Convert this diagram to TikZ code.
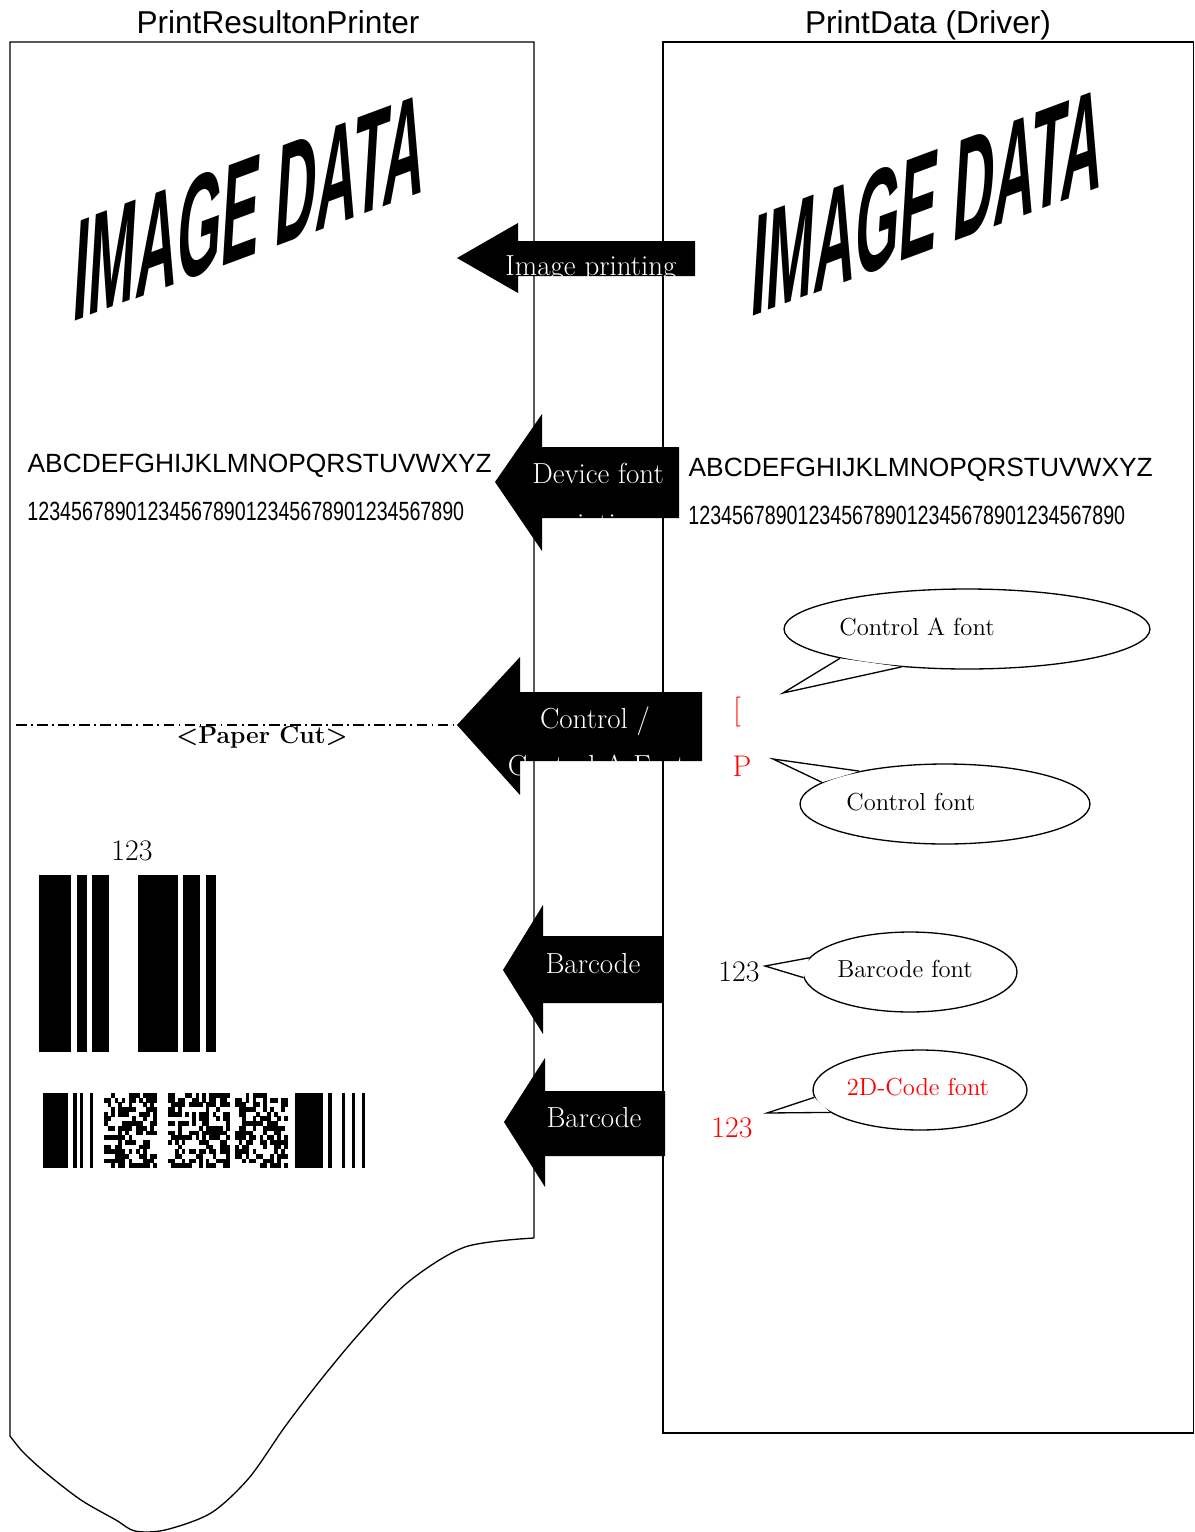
\documentclass[tikz,border=0pt]{standalone}
\usepackage{fontspec}
\newfontfamily\arialf{Liberation Sans}
\usetikzlibrary{shapes.geometric}

\begin{document}
\begin{tikzpicture}[x=0.02cm, y=-0.02cm, line width=0.75pt,
  titulo/.style={font=\arialf\fontsize{18}{20}\selectfont, inner sep=0, anchor=base},
  letras/.style={font=\arialf\fontsize{15}{17}\selectfont, inner sep=0, anchor=base west},
  imagen/.style={font=\arialf\bfseries\fontsize{83}{83}\selectfont, inner sep=0, cm={0.39,0.145,0.06,1,(0,0)}},
  flechatxt/.style={text=white, font=\fontsize{16.5}{20}\selectfont, inner sep=0, anchor=base},
  nota/.style={font=\fontsize{14}{16}\selectfont, inner sep=0},
  num/.style={font=\fontsize{17}{19}\selectfont, inner sep=0},
  burbuja/.style={ellipse, draw, fill=white, inner sep=0, minimum height=1.6cm}]
  \useasboundingbox (0,0) rectangle (1195,1532);

  % --- titulos ---
  \node[titulo] (tizq) at (278,33) {PrintResultonPrinter};
  \node[titulo] (tder) at (928,33) {PrintData (Driver)};

  % --- papel impreso (izquierda) y datos del driver (derecha) ---
  \draw (534,1238) -- (534,42) -- (10,42) -- plot[smooth, tension=0.5] coordinates {
    (10,1436) (23,1452) (46,1473) (81,1500) (116,1520) (135,1531) (165,1530)
    (211,1513) (249,1478) (284,1428) (319,1382) (358,1335) (407,1283) (465,1247) (534,1238)};
  \draw (663,42) rectangle (1193.5,1433);

  % --- IMAGE DATA ---
  \node[imagen] (imgizq) at (250,207) {IMAGE DATA};
  \node[imagen] (imgder) at (928,202) {IMAGE DATA};

  % --- fuente del dispositivo ---
  \node[letras] (abcizq) at (27,472) {ABCDEFGHIJKLMNOPQRSTUVWXYZ};
  \node[letras, xscale=0.745] (numizq) at (27,520) {1234567890123456789012345678901234567890};
  \node[letras] (abcder) at (688,476) {ABCDEFGHIJKLMNOPQRSTUVWXYZ};
  \node[letras, xscale=0.745] (numder) at (688,524) {1234567890123456789012345678901234567890};

  % --- corte de papel ---
  \draw[line width=0.6pt, dash pattern=on 6pt off 2.5pt on 1pt off 2.5pt] (16,725) -- (470,725);
  \node[font=\bfseries\fontsize{14}{16}\selectfont, inner sep=0] (corte) at (262,737) {<Paper Cut>};

  % --- codigo de barras ---
  \node[num] (n123) at (132,851) {123};
  \foreach \a/\b in {39/71,77/87,92/109,138/178,183/200,206/216}
    \fill (\a,875) rectangle (\b,1052);

  % --- codigo 2D ---
  \foreach \a/\b in {43/68,73/77,80/83,90/93,295/323,328/332,342/345,352/355,362/365}
    \fill (\a,1093) rectangle (\b,1168);
  \pgfmathsetseed{417}
  \foreach \xa/\nc/\w in {104/14/3.53,168/17/3.44,235/14/3.53}
    \foreach \i in {0,...,\nc}
      \foreach \j in {0,...,15} {
        \pgfmathtruncatemacro{\bit}{rnd+0.5}
        \ifnum\bit=1 \fill (\xa+\w*\i,1093+4.69*\j) rectangle ++(\w+0.2,4.8); \fi
      }

  % --- flechas ---
  \begin{scope}
    \clip (457,258) -- (518,223) -- (518,241) -- (695,241) -- (695,276) -- (518,276) -- (518,293) -- cycle;
    \fill (440,200) rectangle (720,300);
    \node[flechatxt] (fimg) at (591,275) {Image printing};
  \end{scope}
  \begin{scope}
    \clip (495,482) -- (542,414) -- (542,447) -- (679,447) -- (679,518) -- (542,518) -- (542,551) -- cycle;
    \fill (480,400) rectangle (700,560);
    \node[flechatxt] (fdev) at (598,483) {Device font};
    \node[flechatxt] (fdev2) at (598,533) {printing};
  \end{scope}
  \begin{scope}
    \clip (457,725) -- (520,657) -- (520,692) -- (702,692) -- (702,761) -- (520,761) -- (520,795) -- cycle;
    \fill (440,640) rectangle (720,800);
    \node[flechatxt] (fctl) at (595,728) {Control /};
    \node[flechatxt] (fctl2) at (597,775) {Control A Font};
  \end{scope}
  \begin{scope}
    \clip (503,970) -- (543,905) -- (543,936) -- (663,936) -- (663,1003) -- (543,1003) -- (543,1034) -- cycle;
    \fill (490,890) rectangle (680,1050);
    \node[flechatxt] (fbar) at (593,973) {Barcode};
  \end{scope}
  \begin{scope}
    \clip (504,1122) -- (545,1058) -- (545,1091) -- (665,1091) -- (665,1156) -- (545,1156) -- (545,1187) -- cycle;
    \fill (490,1040) rectangle (680,1200);
    \node[flechatxt] (fbar2) at (594,1127) {Barcode};
  \end{scope}

  % --- globos ---
  \node[burbuja, minimum width=7.32cm] (bctla) at (967,629) {};
  \coordinate (pctla) at (783,693);
  \fill[white] (bctla.193) -- (pctla) -- (bctla.210) -- cycle;
  \draw[line join=miter] (bctla.193) -- (pctla) -- (bctla.210);
  \node[nota] (tctla) at (917,627) {Control A font};

  \node[burbuja, minimum width=5.8cm] (bctl) at (945,804) {};
  \coordinate (pctl) at (773,759);
  \fill[white] (bctl.159) -- (pctl) -- (bctl.170) -- cycle;
  \draw[line join=miter] (bctl.159) -- (pctl) -- (bctl.170);
  \node[nota] (tctl) at (911,802) {Control font};

  \node[burbuja, minimum width=4.28cm] (bbar) at (910,972) {};
  \coordinate (pbar) at (765,966);
  \fill[white] (bbar.172) -- (pbar) -- (bbar.183) -- cycle;
  \draw[line join=miter] (bbar.172) -- (pbar) -- (bbar.183);
  \node[nota] (tbar) at (905,969) {Barcode font};

  \node[burbuja, minimum width=4.28cm] (b2d) at (920,1090) {};
  \coordinate (p2d) at (767,1113);
  \fill[white] (b2d.184) -- (p2d) -- (b2d.194) -- cycle;
  \draw[line join=miter] (b2d.184) -- (p2d) -- (b2d.194);
  \node[nota, text=red] (t2d) at (918,1087) {2D-Code font};

  % --- caracteres de control ---
  \node[num, text=red] (corch) at (737,712) {[};
  \node[num, text=red] (letp) at (742,766) {P};
  \node[num] (n123b) at (739,972) {123};
  \node[num, text=red] (n123r) at (732,1128) {123};
\end{tikzpicture}
\end{document}
